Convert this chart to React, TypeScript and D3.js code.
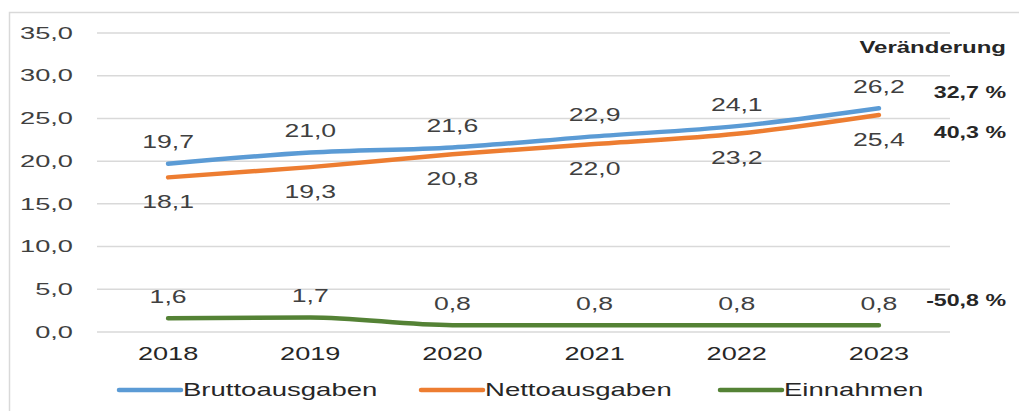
import * as d3 from 'd3';

const years = ['2018', '2019', '2020', '2021', '2022', '2023'];
const brutto = [19.7, 21.0, 21.6, 22.9, 24.1, 26.2];
const netto = [18.1, 19.3, 20.8, 22.0, 23.2, 25.4];
const einnahmen = [1.6, 1.7, 0.8, 0.8, 0.8, 0.8];
const yTicks = [0, 5, 10, 15, 20, 25, 30, 35];
const changes = ['32,7 %', '40,3 %', '-50,8 %'];

const seriesNames = ['Bruttoausgaben', 'Nettoausgaben', 'Einnahmen'];
const seriesColors = ['#5b9bd5', '#ed7d31', '#548235'];

const W = 1019;
const H = 411;
const fmt = (v: number) => v.toFixed(1).replace('.', ',');
const font = 'Liberation Sans, Arial, sans-serif';

// the source picture is stretched sideways, so text gets a horizontal scale
const SText = (props: {
  x: number;
  y: number;
  sx: number;
  size: number;
  anchor?: 'start' | 'middle' | 'end';
  bold?: boolean;
  fill?: string;
  children: any;
}) => {
  const { x, y, sx, size, anchor, bold, fill, children } = props;
  return (
    <text
      transform={`translate(${x}, ${y}) scale(${sx}, 1)`}
      dy="0.35em"
      textAnchor={anchor ?? 'start'}
      fontSize={size}
      fontWeight={bold ? 'bold' : 'normal'}
      fill={fill ?? '#404040'}
    >
      {children}
    </text>
  );
};

export default function App() {
  const x = d3.scaleBand().domain(years).range([97, 950]);
  const y = d3.scaleLinear().domain([0, 35]).range([332, 33]);
  const cx = (yr: string) => (x(yr) ?? 0) + x.bandwidth() / 2;

  const line = d3
    .line<number>()
    .x((_, i) => cx(years[i]))
    .y((d) => y(d))
    .curve(d3.curveMonotoneX);

  const series = [brutto, netto, einnahmen];
  // label offsets: blue above, orange below, green above
  const labelDy = [-22, 24, -22];
  const changeY = [y(brutto[5]) - 16, y(netto[5]) + 17, y(einnahmen[5]) - 25];

  return (
    <svg
      width={W}
      height={H}
      style={{ position: 'absolute', left: 0, top: 0, background: '#fff' }}
      fontFamily={font}
    >
      <rect x={9.5} y={12.5} width={W} height={H} fill="none" stroke="#d9d9d9" strokeWidth={1.5} />
      <g>
        {yTicks.map((t) => (
          <g key={t}>
            <line x1={97} x2={950} y1={y(t)} y2={y(t)} stroke="#d9d9d9" strokeWidth={1.5} />
            <SText x={73} y={y(t)} sx={1.65} size={16.5} anchor="end">
              {fmt(t)}
            </SText>
          </g>
        ))}
      </g>
      {years.map((yr) => (
        <SText key={yr} x={cx(yr)} y={354} sx={1.55} size={17.5} anchor="middle" fill="#262626">
          {yr}
        </SText>
      ))}
      {series.map((s, si) => (
        <g key={si}>
          <path d={line(s) ?? ''} fill="none" stroke={seriesColors[si]} strokeWidth={4.5} strokeLinecap="round" />
          {s.map((v, i) => (
            <SText key={i} x={cx(years[i])} y={y(v) + labelDy[si]} sx={1.4} size={19} anchor="middle">
              {fmt(v)}
            </SText>
          ))}
        </g>
      ))}
      <SText x={1006} y={47} sx={1.5} size={16} anchor="end" bold fill="#262626">
        Veränderung
      </SText>
      {changes.map((c, i) => (
        <SText key={c} x={1006} y={changeY[i]} sx={1.45} size={16} anchor="end" bold fill="#262626">
          {c}
        </SText>
      ))}
      {seriesNames.map((n, i) => {
        const lx = [119, 421, 720][i];
        return (
          <g key={n}>
            <line x1={lx} x2={lx + 62} y1={390} y2={390} stroke={seriesColors[i]} strokeWidth={4.5} strokeLinecap="round" />
            <SText x={lx + 64} y={390} sx={1.53} size={18} fill="#262626">
              {n}
            </SText>
          </g>
        );
      })}
    </svg>
  );
}
